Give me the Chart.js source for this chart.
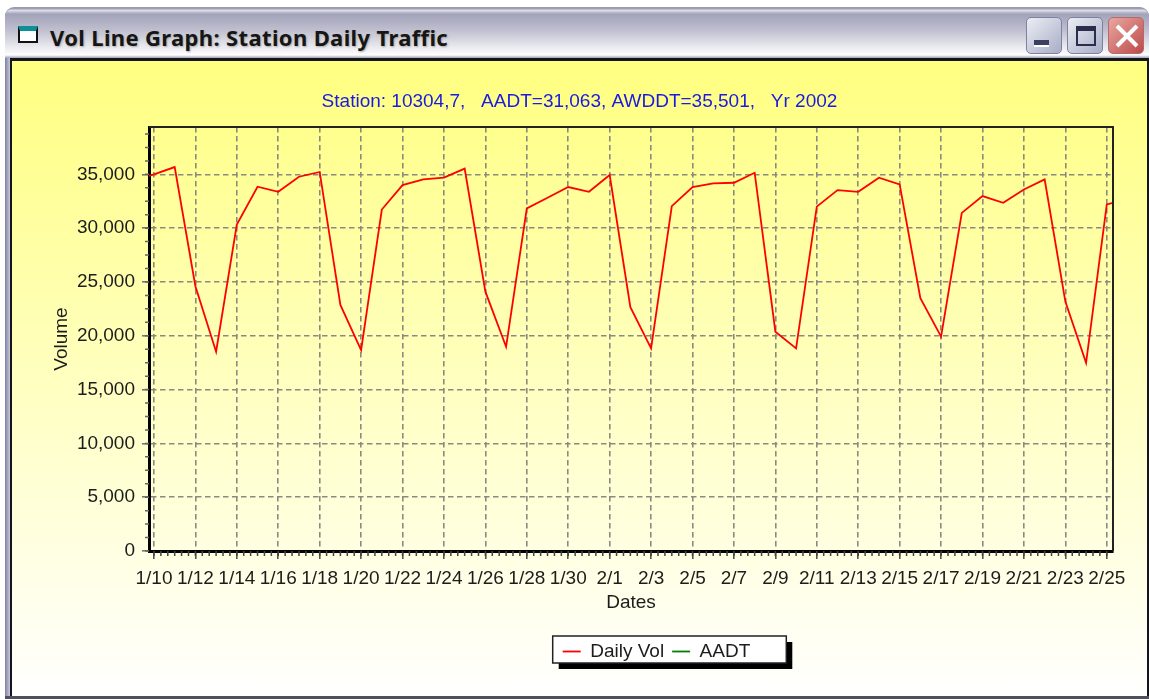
<!DOCTYPE html>
<html lang="en">
  <head>
    <meta charset="UTF-8" />
    <title>Vol Line Graph: Station Daily Traffic</title>
    <style>
      html, body { margin: 0; padding: 0; background: #fff; width: 1149px; height: 699px; overflow: hidden; }
      .abs { position: absolute; box-sizing: border-box; }
      #frame { left: 5px; top: 7px; width: 1144px; height: 692px; border-radius: 9px 9px 0 0; background: #9a9ab4; }
      #titlebar {
        left: 5px; top: 8px; width: 1144px; height: 50px; border-radius: 9px 9px 0 0;
        background: linear-gradient(#8f8fa8 0, #dcdce6 5%, #a2a2ba 12%, #c0c0d0 45%, #f6f6f9 88%, #ffffff 94%, #a0a0b4 100%);
      }
      #title {
        left: 50px; top: 22px; font: bold 22px "Noto Sans", sans-serif; color: #161616; letter-spacing: 0.35px;
        text-shadow: 1px 1px 2px #aaa; white-space: nowrap; line-height: 30px;
      }
      #client { left: 10px; top: 58px; width: 1139px; height: 639px; background: #14141c; }
      #plotwrap { left: 12px; top: 61px; width: 1135px; height: 636px; background: linear-gradient(#ffff80, #ffffff); }
      #graph { filter: blur(0.4px); }
      #bottom { left: 5px; top: 696px; width: 1144px; height: 3px; background: #50505c; }
      #leftedge { left: 5px; top: 58px; width: 5px; height: 641px; background: linear-gradient(90deg, #8080a0, #c8c8dc); }
      .btn { top: 17px; width: 36px; height: 37px; border-radius: 5px; border: 1px solid #7d82a4; background: linear-gradient(135deg, #eceef4, #a9adc6); }
      #close { background: linear-gradient(135deg, #e9a7a0, #bd4a4a); border-color: #b56a6a; }
      #icon { left: 18px; top: 26px; width: 20px; height: 17px; background: #fff; border: 2px solid #111; border-top: 5px solid #0e8f96; }
    </style>
  </head>
  <body>
    <div class="abs" id="frame"></div>
    <div class="abs" id="titlebar"></div>
    <div class="abs" id="icon"></div>
    <div class="abs" id="title">Vol Line Graph: Station Daily Traffic</div>
    <div class="abs btn" style="left: 1026px">
      <div class="abs" style="left: 7px; top: 22px; width: 15px; height: 7px; background: #3c4060; border-bottom: 2px solid #fff"></div>
    </div>
    <div class="abs btn" style="left: 1067px">
      <div class="abs" style="left: 8px; top: 8px; width: 20px; height: 20px; border: 2px solid #2a2e4a; border-top-width: 5px"></div>
    </div>
    <div class="abs btn" id="close" style="left: 1108px">
      <svg class="abs" style="left: 6px; top: 6px" width="24" height="24"><path d="M2 2L22 22M22 2L2 22" stroke="#fff" stroke-width="4" /></svg>
    </div>
    <div class="abs" id="client"></div>
    <div class="abs" id="leftedge"></div>
    <div class="abs" id="plotwrap"><canvas id="graph" width="1135" height="636"></canvas></div>
    <div class="abs" id="bottom"></div>

    <script src="https://cdn.jsdelivr.net/npm/chart.js@4"></script>
    <script>
      // one clipped day on each side of the plot (1/9 and 2/26)
      const dates = [
        "1/9", "1/10", "1/11", "1/12", "1/13", "1/14", "1/15", "1/16", "1/17", "1/18", "1/19", "1/20", "1/21",
        "1/22", "1/23", "1/24", "1/25", "1/26", "1/27", "1/28", "1/29", "1/30", "1/31", "2/1", "2/2", "2/3",
        "2/4", "2/5", "2/6", "2/7", "2/8", "2/9", "2/10", "2/11", "2/12", "2/13", "2/14", "2/15", "2/16",
        "2/17", "2/18", "2/19", "2/20", "2/21", "2/22", "2/23", "2/24", "2/25", "2/26",
      ];
      const dailyVol = [
        34400, 35000, 35680, 24600, 18520, 30330, 33850, 33380, 34780, 35220, 22870, 18670, 31730,
        34000, 34530, 34690, 35530, 24100, 18980, 31830, 32820, 33820, 33380, 34940, 22650, 18830,
        32050, 33820, 34160, 34220, 35150, 20380, 18830, 32000, 33540, 33380, 34690, 34070, 23490,
        19920, 31420, 32980, 32360, 33600, 34530, 23180, 17490, 32200, 32700,
      ];
      const aadt = [];
      const yTicks = [0, 5000, 10000, 15000, 20000, 25000, 30000, 35000];
      const xTicks = [
        0, 2, 4, 6, 8, 10, 12, 14, 16, 18, 20, 22, 24, 26, 28, 30, 32, 34, 36, 38, 40, 42, 44, 46,
      ];
      const yMax = 39400;
      const xMin = -0.24;
      const xMax = 46.3;
      const legendShift = 94;
      const titleShift = 17;

      const gridColor = "#8a8a80";
      const textColor = "#1c1c1c";
      const font = { family: "Liberation Sans", size: 19 };

      // frame, small ticks and the legend box are not something the scales draw themselves
      const decorations = {
        id: "decorations",
        afterLayout(chart) {
          chart.legend.left += legendShift;
          chart.legend.right += legendShift;
          chart.titleBlock.left += titleShift;
          chart.titleBlock.right += titleShift;
        },
        beforeDraw(chart) {
          const { ctx, legend } = chart;
          const boxes = legend.legendHitBoxes;
          const left = boxes[0].left - 10;
          const right = boxes[boxes.length - 1].left + boxes[boxes.length - 1].width + 36;
          const top = boxes[0].top - 6;
          const h = boxes[0].height + 8;
          ctx.save();
          ctx.fillStyle = "#000";
          ctx.fillRect(left + 6, top + 6, right - left, h);
          ctx.fillStyle = "#fff";
          ctx.strokeStyle = "#222";
          ctx.lineWidth = 1.5;
          ctx.fillRect(left, top, right - left, h);
          ctx.strokeRect(left, top, right - left, h);
          ctx.restore();
        },
        afterDraw(chart) {
          const { ctx, chartArea: a, scales } = chart;
          ctx.save();
          ctx.strokeStyle = "#222";
          ctx.lineWidth = 2;
          ctx.beginPath();
          ctx.moveTo(a.left, a.top);
          ctx.lineTo(a.right, a.top);
          ctx.lineTo(a.right, a.bottom);
          ctx.stroke();
          ctx.lineWidth = 1.5;
          ctx.strokeStyle = "#444";
          ctx.beginPath();
          for (let i = 0; i <= 46 * 3; i++) {
            const px = scales.x.getPixelForValue(i / 3);
            ctx.moveTo(px, a.bottom);
            ctx.lineTo(px, a.bottom + 5);
          }
          ctx.stroke();
          ctx.strokeStyle = "#666";
          ctx.beginPath();
          for (let v = 0; v < yMax; v += 1250) {
            const py = scales.y.getPixelForValue(v);
            ctx.moveTo(a.left, py);
            ctx.lineTo(a.left - 4, py);
          }
          ctx.stroke();
          ctx.restore();
        },
      };

      window.chart = new Chart(document.getElementById("graph"), {
        type: "line",
        data: {
          datasets: [
            {
              label: "Daily Vol",
              data: dailyVol.map((v, i) => ({ x: i - 1, y: v })),
              borderColor: "#ff0000",
              backgroundColor: "#ff0000",
              borderWidth: 1.8,
              pointRadius: 0,
              tension: 0,
            },
            {
              label: "AADT",
              data: aadt,
              borderColor: "#008000",
              backgroundColor: "#008000",
              borderWidth: 1.8,
              pointRadius: 0,
            },
          ],
        },
        options: {
          responsive: false,
          animation: false,
          layout: { padding: { right: 34, bottom: 26 } },
          plugins: {
            tooltip: { enabled: false },
            title: {
              display: true,
              text: "Station: 10304,7,   AADT=31,063, AWDDT=35,501,   Yr 2002",
              color: "#1a1ae0",
              font: { family: "Liberation Sans", size: 19, weight: "normal" },
              padding: { top: 29, bottom: 14.2 },
            },
            legend: {
              position: "bottom",
              labels: {
                usePointStyle: true,
                pointStyle: "line",
                pointStyleWidth: 18,
                color: textColor,
                font: font,
                padding: 8,
              },
            },
          },
          scales: {
            x: {
              type: "linear",
              min: xMin,
              max: xMax,
              afterFit: (s) => { s.height = 83; },
              afterBuildTicks: (s) => { s.ticks = xTicks.map((value) => ({ value })); },
              title: { display: true, text: "Dates", color: textColor, font: font, padding: { top: 4, bottom: 20 } },
              border: { color: "#000", width: 3, dash: [5.5, 3.5] },
              grid: { color: gridColor, lineWidth: 1.6, tickColor: "#555", tickLength: 8, tickBorderDash: [] },
              ticks: {
                autoSkip: false,
                maxRotation: 0,
                color: textColor,
                font: font,
                padding: 8,
                callback: (v) => dates[v + 1],
              },
            },
            y: {
              min: 0,
              max: yMax,
              afterFit: (s) => { s.width = 137; },
              afterBuildTicks: (s) => { s.ticks = yTicks.map((value) => ({ value })); },
              title: { display: true, text: "Volume", color: textColor, font: font, padding: { top: 38, bottom: 0 } },
              border: { color: "#000", width: 3, dash: [5.5, 3.5] },
              grid: { color: gridColor, lineWidth: 1.6, tickColor: "#777", tickLength: 7, tickBorderDash: [] },
              ticks: {
                autoSkip: false,
                color: textColor,
                font: font,
                padding: 7,
                callback: (v) => v.toLocaleString("en-US"),
              },
            },
          },
        },
        plugins: [decorations],
      });
    </script>
  </body>
</html>
